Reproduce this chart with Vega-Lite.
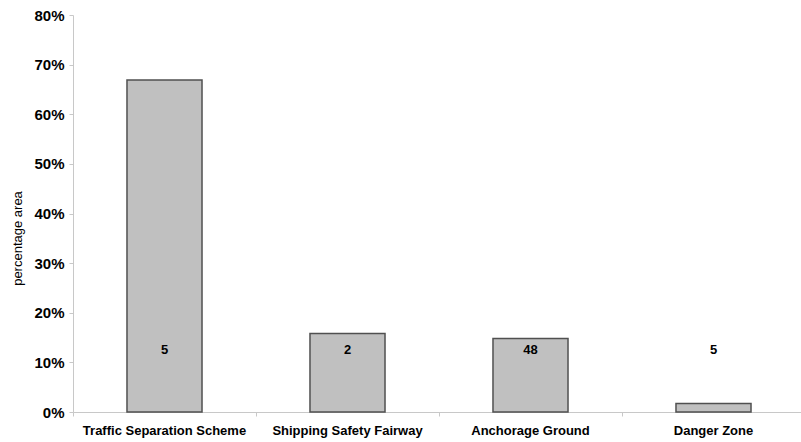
{
  "$schema": "https://vega.github.io/schema/vega-lite/v6.json",
  "width": 732,
  "height": 397,
  "autosize": {"type": "none"},
  "padding": {"left": 73, "top": 15, "right": 0, "bottom": 30},
  "background": "white",
  "config": {"view": {"stroke": null}, "font": "Liberation Sans"},
  "data": {
    "values": [
      {"category": "Traffic Separation Scheme", "pct": 0.669, "label": "5"},
      {"category": "Shipping Safety Fairway", "pct": 0.158, "label": "2"},
      {"category": "Anchorage Ground", "pct": 0.148, "label": "48"},
      {"category": "Danger Zone", "pct": 0.017, "label": "5"}
    ]
  },
  "encoding": {
    "x": {
      "field": "category",
      "type": "nominal",
      "sort": null,
      "scale": {"paddingInner": 0, "paddingOuter": 0},
      "axis": {
        "title": null,
        "labelAngle": 0,
        "bandPosition": 0,
        "domainColor": "#c8c8c8",
        "tickColor": "#c8c8c8",
        "tickSize": 4,
        "labelFont": "Liberation Sans",
        "labelFontWeight": "bold",
        "labelFontSize": 13,
        "labelColor": "black",
        "labelPadding": 8,
        "labelLimit": 300
      }
    }
  },
  "layer": [
    {
      "mark": {"type": "bar", "width": {"band": 0.41}, "fill": "#c0c0c0", "stroke": "#505050", "strokeWidth": 1.5},
      "encoding": {
        "y": {
          "field": "pct",
          "type": "quantitative",
          "scale": {"domain": [0, 0.8], "nice": false},
          "axis": {
            "title": "percentage area",
            "titleFont": "Liberation Sans",
            "titleFontWeight": "normal",
            "titleFontSize": 13,
            "titleColor": "black",
            "titlePadding": 9,
            "titleY": 223,
            "format": ".0%",
            "values": [0, 0.1, 0.2, 0.3, 0.4, 0.5, 0.6, 0.7, 0.8],
            "grid": false,
            "domainColor": "#c8c8c8",
            "tickColor": "#c8c8c8",
            "tickSize": 4,
            "labelPadding": 5,
            "labelFont": "Liberation Sans",
            "labelFontWeight": "bold",
            "labelFontSize": 15,
            "labelColor": "black"
          }
        }
      }
    },
    {
      "mark": {"type": "text", "fontWeight": "bold", "fontSize": 13, "color": "black", "baseline": "middle", "align": "center"},
      "encoding": {
        "y": {"datum": 0.124, "type": "quantitative"},
        "text": {"field": "label"}
      }
    }
  ]
}
